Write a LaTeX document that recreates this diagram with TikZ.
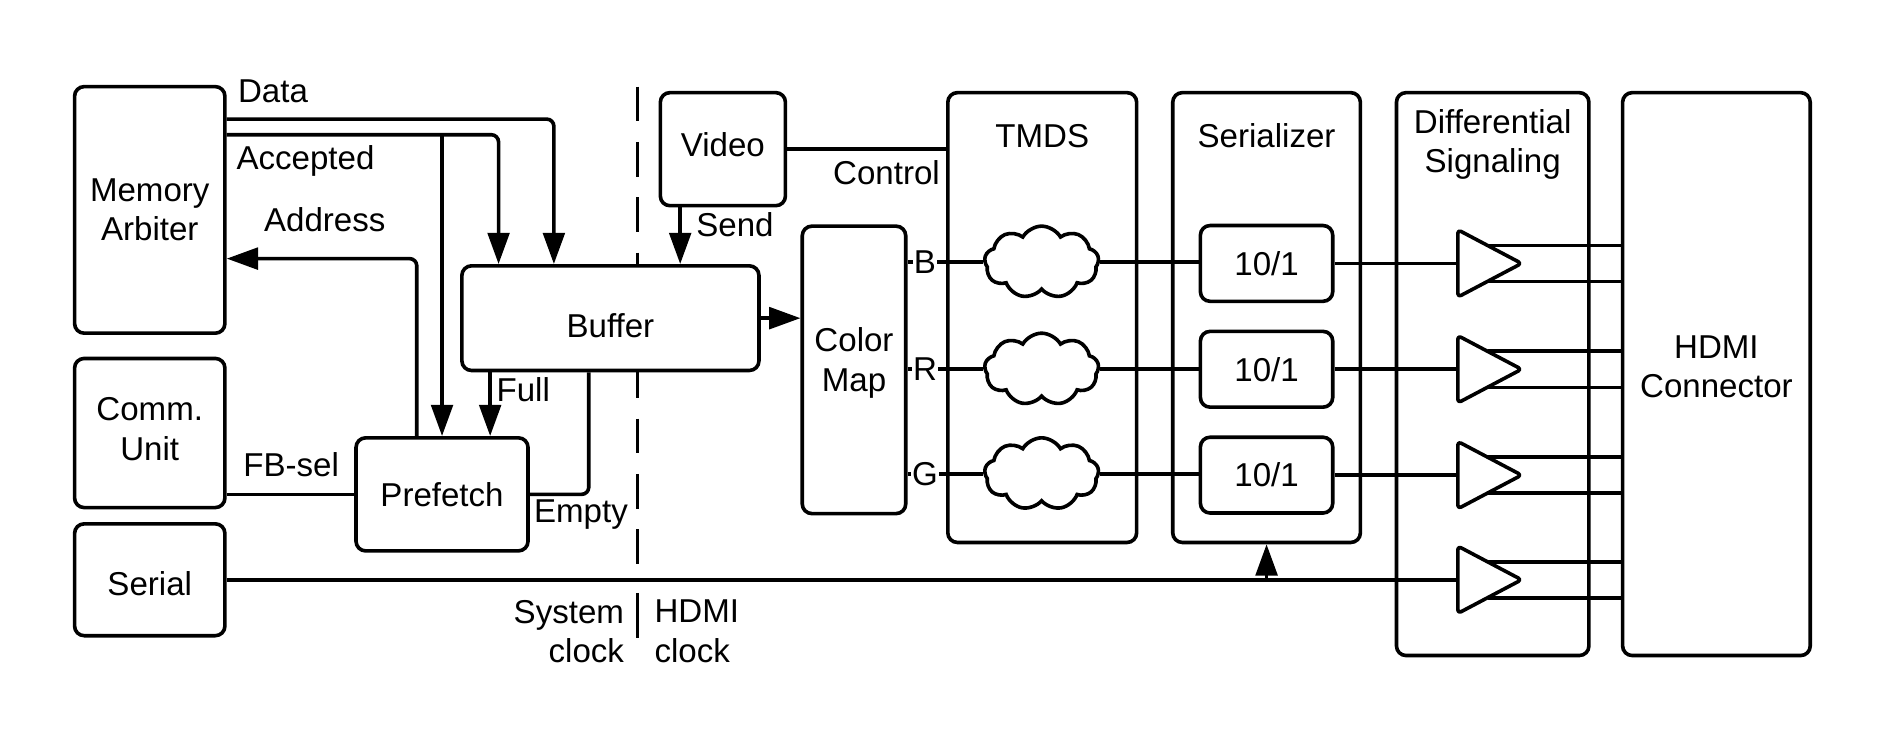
\documentclass[tikz,border=0pt]{standalone}
\usepackage{fontspec}
\setmainfont{Liberation Sans}
\usetikzlibrary{arrows.meta,shapes.symbols,calc}
\begin{document}
\begin{tikzpicture}[x=1pt,y=-1pt,
  every node/.style={font=\fontsize{27.5}{33}\selectfont},
  box/.style={draw, fill=white, line width=3pt, rounded corners=8pt, align=center, inner sep=0pt},
  conn/.style={line width=3pt, rounded corners=6pt},
  arr/.style={conn, -{Triangle[length=26pt,width=18pt]}},
  lbl/.style={inner sep=0pt, text height=25pt, text depth=6pt},
  blk/.style={inner sep=0pt, align=center},
  tag/.style={fill=white, inner sep=0.8pt, text height=19pt, text depth=0pt},
  cl/.style={draw, fill=white, cloud, cloud puffs=9, cloud puff arc=120, cloud ignores aspect,
    minimum width=95pt, minimum height=60pt, line width=3pt, inner sep=0pt},
]
\useasboundingbox (0,0) rectangle (1568,625);

% clock domain divider (behind the blocks)
\coordinate (dTop) at (530,72);
\coordinate (dBot) at (530,478);
\draw[line width=3pt, dash pattern=on 29pt off 17pt] (dTop) -- (dBot);
\coordinate (sTop) at (530,493);
\coordinate (sBot) at (530,530);
\draw[line width=3pt] (sTop) -- (sBot);

% blocks
\node[box, minimum width=125pt, minimum height=205pt] (MA) at (124.5,174.5) {Memory\\Arbiter};
\node[box, minimum width=125pt, minimum height=124pt] (CU) at (124.5,360) {};
\node[blk] (CUt) at (124.5,357) {Comm.\\Unit};
\node[box, minimum width=125pt, minimum height=93pt] (Serial) at (124.5,482) {};
\node[blk] (Serialt) at (124.5,485) {Serial};
\node[box, minimum width=143pt, minimum height=94pt] (Prefetch) at (367.5,411) {Prefetch};
\node[box, minimum width=247pt, minimum height=87pt] (Buffer) at (507.5,264.5) {};
\node[blk] (Buffert) at (507.5,271) {Buffer};
\node[box, minimum width=104pt, minimum height=94pt] (Video) at (601,124) {};
\node[blk] (Videot) at (601,120) {Video};
\node[box, minimum width=86pt, minimum height=239pt] (CM) at (710,307.5) {};
\node[blk] (CMt) at (710,302) {Color\\Map};
\node[box, minimum width=157pt, minimum height=374pt] (TMDS) at (866.5,264) {};
\node[blk] (TMDSt) at (866.5,113) {TMDS};
\node[box, minimum width=156pt, minimum height=374pt] (Ser) at (1053,264) {};
\node[blk] (Sert) at (1053,113) {Serializer};
\node[box, minimum width=160pt, minimum height=468pt] (DS) at (1241,311) {};
\node[blk] (DSt) at (1241,120) {Differential\\Signaling};
\node[box, minimum width=156pt, minimum height=468pt] (HDMI) at (1427,311) {};
\node[blk] (HDMIt) at (1427,305) {HDMI\\Connector};

\node[box, minimum width=110pt, minimum height=63pt] (s1) at (1053,219) {10/1};
\node[box, minimum width=110pt, minimum height=63pt] (s2) at (1053,307) {10/1};
\node[box, minimum width=110pt, minimum height=63pt] (s3) at (1053,395) {10/1};

\node[cl] (c1) at (866,218) {};
\node[cl] (c2) at (866,307) {};
\node[cl] (c3) at (866,394) {};

% differential drivers
\foreach \y/\n in {219/1,307/2,395/3,482/4}{
  \draw[line width=3pt, rounded corners=3pt, line join=round]
    (1212,\y-28) -- (1265,\y) -- (1212,\y+28) -- cycle;
  \coordinate (tin\n) at (1212,\y);
  \coordinate (toa\n) at (1237,\y-15);
  \coordinate (tob\n) at (1237,\y+15);
}

% helper levels
\coordinate (yD) at (0,99);
\coordinate (yA) at (0,112);
\coordinate (yAd) at (0,215);

% memory arbiter connections
\draw[arr] (MA.east |- yD) -| ($(Buffer.north west)+(78,0)$);
\draw[arr] (MA.east |- yA) -| ($(Buffer.north west)+(32,0)$);
\draw[arr] (Prefetch.north |- yA) -- (Prefetch.north);
\draw[arr] ($(Prefetch.north west)+(52,0)$) |- (MA.east |- yAd);
\draw[arr] ($(Buffer.south west)+(25,0)$) -- ($(Prefetch.north west)+(113,0)$);
\draw[conn] (Prefetch.east) -| ($(Buffer.south west)+(107,0)$);
\draw[conn] (CU.east |- Prefetch.west) -- (Prefetch.west);
\draw[arr] ($(Video.south west)+(18,0)$) -- ($(Buffer.north west)+(183,0)$);
\draw[conn] (Video.east) -- (Video.east -| TMDS.west);
\draw[arr] (Buffer.east) -- (Buffer.east -| CM.west);

% color channels
\foreach \n in {1,2,3}{
  \draw[conn] (CM.east |- c\n.west) -- (c\n.west);
  \draw[conn] (c\n.east) -- (c\n.east -| s\n.west);
  \draw[conn] (s\n.east) -- (s\n.east -| tin\n);
}
\node[tag] (lB) at (769,218) {B};
\node[tag] (lR) at (769,307) {R};
\node[tag] (lG) at (769,394) {G};

\foreach \n in {1,2,3,4}{
  \draw[conn] (toa\n) -- (toa\n -| HDMI.west);
  \draw[conn] (tob\n) -- (tob\n -| HDMI.west);
}

% serial
\draw[conn] (Serial.east) -- (Serial.east -| tin4);
\draw[arr] (Ser.south |- Serial.east) -- (Ser.south);

% labels
\node[lbl] (tData) at (227,76) {Data};
\node[lbl] (tAcc) at (254,131) {Accepted};
\node[lbl] (tAddr) at (270,183) {Address};
\node[lbl] (tFB) at (242,387) {FB-sel};
\node[lbl] (tFull) at (435,324) {Full};
\node[lbl] (tEmpty) at (483,425) {Empty};
\node[lbl] (tSend) at (611,187) {Send};
\node[lbl] (tCtrl) at (737,144) {Control};
\node[blk, align=right, anchor=east] (tSys) at (519,525) {System\\clock};
\node[blk, align=left, anchor=west] (tHd) at (544,525) {HDMI\\clock};
\end{tikzpicture}
\end{document}
